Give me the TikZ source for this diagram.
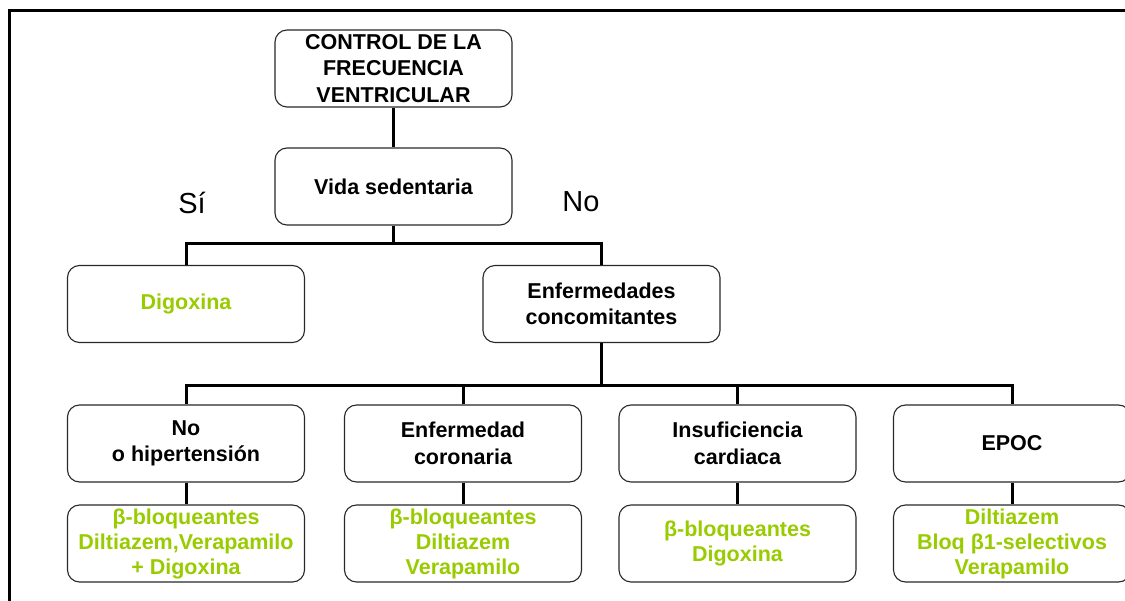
\documentclass[tikz,border=0pt]{standalone}
\usepackage{fontspec}
\setmainfont{Liberation Sans}
\definecolor{lime}{RGB}{153,204,0}
\definecolor{boxline}{RGB}{40,40,40}
\begin{document}
\begin{tikzpicture}[x=1pt,y=-1pt,
  box/.style={draw=boxline,line width=1.1pt,rounded corners=12pt,align=center,
    minimum width=237pt,minimum height=77pt,inner sep=2pt,
    font=\fontsize{21.5}{26.5}\selectfont\bfseries},
  drug/.style={box,text=lime,font=\fontsize{21.5}{25}\selectfont\bfseries},
  conn/.style={line width=3pt,black},
  lbl/.style={font=\fontsize{29}{32}\selectfont,inner sep=0pt}]
\useasboundingbox (0,0) rectangle (1125,601);
\fill[white] (0,0) rectangle (1125,601);
\draw[line width=3pt] (9.5,601) -- (9.5,10.5) -- (1125,10.5);
\begin{scope}
\clip (0,0) rectangle (1125,601);
\node[box] (top) at (393.5,68.5) {CONTROL DE LA\\FRECUENCIA\\VENTRICULAR};
\node[box] (vida) at (393.5,186.5) {Vida sedentaria};
\node[drug] (dig) at (186,304) {Digoxina};
\node[box] (enf) at (601.5,304) {Enfermedades\\concomitantes};
\node[box] (n1) at (186,443.5) {No\\o hipertensión};
\node[box] (n2) at (463,443.5) {Enfermedad\\coronaria};
\node[box] (n3) at (737.5,443.5) {Insuficiencia\\cardiaca};
\node[box] (n4) at (1012,443.5) {EPOC};
\node[drug] (t1) at (186,543.5) {β-bloqueantes\\Diltiazem,Verapamilo\\+ Digoxina};
\node[drug] (t2) at (463,543.5) {β-bloqueantes\\Diltiazem\\Verapamilo};
\node[drug] (t3) at (737.5,543.5) {β-bloqueantes\\Digoxina};
\node[drug] (t4) at (1012,543.5) {Diltiazem\\Bloq β1-selectivos\\Verapamilo};
\end{scope}
\node[lbl] (si) at (192,203) {Sí};
\node[lbl] (no) at (581,202) {No};
\coordinate (b1) at (393.5,244);
\coordinate (b2) at (601.5,386);
\draw[conn] (top.south) -- (vida.north);
\draw[conn] (vida.south) -- (b1);
\draw[conn] (dig.north) |- (b1) -| (enf.north);
\draw[conn] (enf.south) -- (b2);
\draw[conn] (n1.north) |- (b2) -| (n4.north);
\draw[conn] (n2.north) -- (n2.north |- b2);
\draw[conn] (n3.north) -- (n3.north |- b2);
\draw[conn] (n1.south) -- (t1.north);
\draw[conn] (n2.south) -- (t2.north);
\draw[conn] (n3.south) -- (t3.north);
\draw[conn] (n4.south) -- (t4.north);
\end{tikzpicture}
\end{document}
